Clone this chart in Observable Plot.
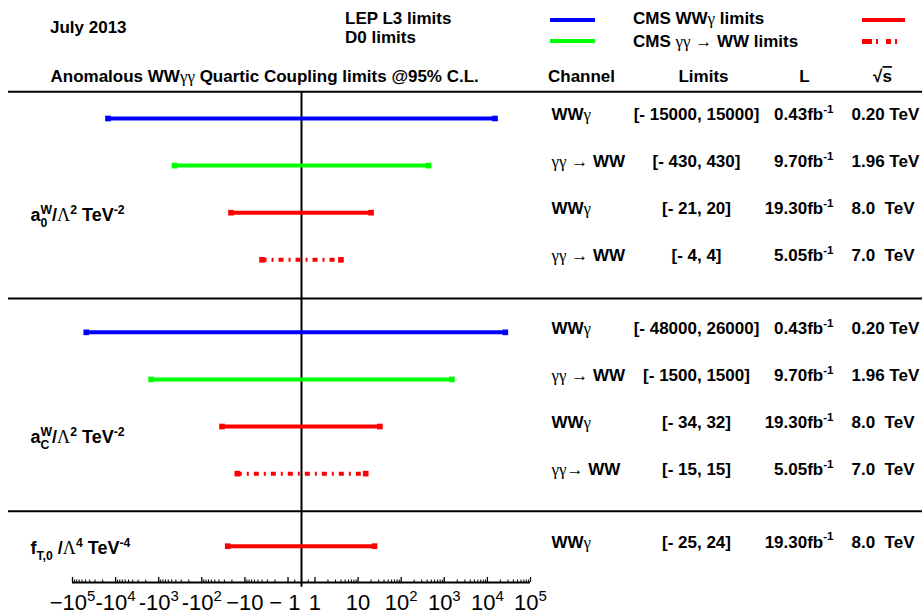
<!DOCTYPE html>
<html>
<head>
<meta charset="utf-8">
<script src="https://cdn.jsdelivr.net/npm/d3@7"></script>
<script src="https://cdn.jsdelivr.net/npm/@observablehq/plot@0.6"></script>
<style>
  body { margin: 0; background: #fff; }
  #wrap { position: relative; width: 922px; height: 616px; overflow: hidden;
          font-family: "Liberation Sans", Arial, sans-serif; font-weight: bold; color: #000; }
  #wrap > svg { position: absolute; left: 0; top: 0; }
  .lg { position: absolute; font-size: 17px; line-height: 17px; white-space: nowrap; }
  .sw { position: absolute; height: 4px; }
  .serif { font-family: "Liberation Serif", serif; font-weight: normal; }
</style>
</head>
<body>
<div id="wrap"></div>
<script>
// ---------------- data ----------------
const rowSection   = [0, 0, 0, 0, 1, 1, 1, 1, 2];
const rowSource    = ["LEP L3", "D0", "CMS WWγ", "CMS γγ→WW", "LEP L3", "D0", "CMS WWγ", "CMS γγ→WW", "CMS WWγ"];
const lowerLimits  = [-15000, -430, -21, -4, -48000, -1500, -34, -15, -25];
const upperLimits  = [15000, 430, 20, 4, 26000, 1500, 32, 15, 24];
const channelLabels = ["WWγ", "γγ → WW", "WWγ", "γγ → WW", "WWγ", "γγ → WW", "WWγ", "γγ→ WW", "WWγ"];
const limitLabels  = ["[- 15000, 15000]", "[- 430, 430]", "[- 21, 20]", "[- 4, 4]",
                      "[- 48000, 26000]", "[- 1500, 1500]", "[- 34, 32]", "[- 15, 15]", "[- 25, 24]"];
const lumiLabels   = ["0.43fb^{-1}", "9.70fb^{-1}", "19.30fb^{-1}", "5.05fb^{-1}",
                      "0.43fb^{-1}", "9.70fb^{-1}", "19.30fb^{-1}", "5.05fb^{-1}", "19.30fb^{-1}"];
const energyLabels = ["0.20 TeV", "1.96 TeV", "8.0  TeV", "7.0  TeV",
                      "0.20 TeV", "1.96 TeV", "8.0  TeV", "7.0  TeV", "8.0  TeV"];
const sectionLabels = ["a@{0}{W}/Λ^{2} TeV^{-2}", "a@{C}{W}/Λ^{2} TeV^{-2}", "f_{T,0} /Λ^{4} TeV^{-4}"];
const sources      = ["LEP L3", "D0", "CMS WWγ", "CMS γγ→WW"];
const sourceColors = ["#0000ff", "#00ff00", "#ff0000", "#ff0000"];
const legendLabels = ["LEP L3 limits", "D0 limits", "CMS WWγ limits", "CMS γγ → WW limits"];
const dateLabel    = "July 2013";
const titleLabel   = "Anomalous WWγγ Quartic Coupling limits @95% C.L.";
const columnLabels = ["Channel", "Limits", "L", "√!{s}"];
const majorTicks   = [-1e5, -1e4, -1e3, -1e2, -10, -1, 1, 10, 1e2, 1e3, 1e4, 1e5];
const majorTickLabels = ["−10^{5}", "-10^{4}", "-10^{3}", "-10^{2}", "−10", "− 1\u00a0", "1", "10", "10^{2}", "10^{3}", "10^{4}", "10^{5}"];
const minorMantissas = [2, 3, 4, 5, 6, 7, 8, 9];
const minorDecades   = [1, 10, 100, 1000, 10000];

// ---------------- layout ----------------
const C = 0.313;                       // half-width of the linear core, in decades
const symT = v => Math.abs(v) >= 1 ? Math.sign(v) * (C + Math.log10(Math.abs(v))) : C * v;
const XMAX = symT(1e5);
const GAP = 0.54;                      // extra space between sections (row units)
const ROW_PX = 47.1, FIRST_PX = 118, AXIS_PX = 582, H = 616;
const Y_TOP = -FIRST_PX / ROW_PX, Y_AXIS = (AXIS_PX - FIRST_PX) / ROW_PX;
const HEADER_Y = -0.89;
const sepY = [-0.57, 3.82, 8.34];
const sectionLabelY = [2.06, 6 + GAP + 0.23, 8 + 2 * GAP + 0.05];
const columnDx = [509, 631, 732, 810];
const MAJOR_LEN = 5 / ROW_PX, MINOR_LEN = 2.5 / ROW_PX;

const rows = lowerLimits.map((lo, i) => ({
  lo, hi: upperLimits[i], source: rowSource[i],
  y: i + rowSection[i] * GAP,
  channel: channelLabels[i], limits: limitLabels[i], lumi: lumiLabels[i], energy: energyLabels[i]
}));
const solidRows = rows.filter(d => d.source !== "CMS γγ→WW");
const dashRows  = rows.filter(d => d.source === "CMS γγ→WW");
const minorTicks = minorDecades.flatMap(d => minorMantissas.flatMap(m => [m * d, -m * d])).concat([0.5, -0.5]);
const tickLabelMap = new Map(majorTicks.map((t, i) => [t, majorTickLabels[i]]));
const DASH = "5,5,2,5";

const plot = Plot.plot({
  width: 922, height: H,
  marginLeft: 72, marginRight: 392, marginTop: 0, marginBottom: H - AXIS_PX,
  style: { fontFamily: "Liberation Sans, Arial, sans-serif", fontSize: "17px", fontWeight: "bold", background: "white", color: "black" },
  x: { type: "linear", transform: symT, domain: [-XMAX, XMAX] },
  y: { type: "linear", domain: [Y_TOP, Y_AXIS], reverse: true, axis: null },
  color: { domain: sources, range: sourceColors },
  marks: [
    Plot.ruleY(sepY, { stroke: "black", strokeWidth: 2, insetLeft: -64, insetRight: -392 }),
    Plot.ruleX([0], { y1: sepY[0], y2: Y_AXIS + 0.1, stroke: "black", strokeWidth: 2 }),
    // axis: line, upward ticks, labels
    Plot.ruleY([Y_AXIS], { stroke: "black", strokeWidth: 2 }),
    Plot.ruleX(majorTicks, { x: d => d, y1: Y_AXIS, y2: Y_AXIS - MAJOR_LEN, stroke: "black", strokeWidth: 1.3 }),
    Plot.ruleX(minorTicks, { x: d => d, y1: Y_AXIS, y2: Y_AXIS - MINOR_LEN, stroke: "black", strokeWidth: 1 }),
    Plot.axisX(majorTicks, { anchor: "bottom", tickSize: 0, tickPadding: 12, tickFormat: d => tickLabelMap.get(d),
                             label: null, fontSize: 22, fontWeight: "normal" }),
    // limit bars
    Plot.ruleY(solidRows, { y: "y", x1: "lo", x2: "hi", stroke: "source", strokeWidth: 4 }),
    Plot.ruleY(dashRows, { y: "y", x1: "lo", x2: "hi", stroke: "source", strokeWidth: 4, strokeDasharray: DASH }),
    Plot.dot(rows, { x: "lo", y: "y", symbol: "square", fill: "source", r: 3.2 }),
    Plot.dot(rows, { x: "hi", y: "y", symbol: "square", fill: "source", r: 3.2 }),
    // table text
    Plot.text(rows, { y: "y", text: "channel", frameAnchor: "left", textAnchor: "start", dx: 479, dy: -4 }),
    Plot.text(rows, { y: "y", text: "limits", frameAnchor: "left", textAnchor: "middle", dx: 624, dy: -4 }),
    Plot.text(rows, { y: "y", text: "lumi", frameAnchor: "left", textAnchor: "end", dx: 761, dy: -4 }),
    Plot.text(rows, { y: "y", text: "energy", frameAnchor: "left", textAnchor: "start", dx: 779, dy: -4 }),
    Plot.text(sectionLabels, { y: (d, i) => sectionLabelY[i], text: d => d, frameAnchor: "left", textAnchor: "start", dx: -42, fontSize: 18 }),
    Plot.text([titleLabel], { y: () => HEADER_Y, text: d => d, frameAnchor: "left", textAnchor: "start", dx: -22 }),
    ...columnLabels.map((lab, i) => Plot.text([lab], { y: () => HEADER_Y, text: d => d, frameAnchor: "left", textAnchor: "middle", dx: columnDx[i] }))
  ]
});

const wrap = document.getElementById("wrap");
wrap.appendChild(plot);

// ---------------- rich text (super/subscripts, symbol glyphs) ----------------
function parseRich(s) {
  const segs = []; let buf = ""; let i = 0;
  const flush = () => { if (buf) { segs.push({ t: buf, k: "n" }); buf = ""; } };
  const group = () => { const j = s.indexOf("}", i); const g = s.slice(i + 1, j); i = j + 1; return g; };
  while (i < s.length) {
    const ch = s[i];
    if ((ch === "^" || ch === "_") && s[i + 1] === "{") { flush(); i++; segs.push({ t: group(), k: ch === "^" ? "sup" : "sub" }); }
    else if (ch === "@" && s[i + 1] === "{") { flush(); i++; const a = group(); const b = group(); segs.push({ t: a, k: "sub" }); segs.push({ t: b, k: "sup", back: true }); }
    else if (ch === "!" && s[i + 1] === "{") { flush(); i++; segs.push({ t: group(), k: "n", over: true }); }
    else if ("γΛ→".includes(ch)) { flush(); segs.push({ t: ch, k: "n", serif: true }); i++; }
    else { buf += ch; i++; }
  }
  flush(); return segs;
}
const NS = "http://www.w3.org/2000/svg";
plot.querySelectorAll("text").forEach(el => {
  const s = el.textContent;
  if (!/[\^_@!γΛ→]/.test(s)) return;
  const fs = parseFloat(getComputedStyle(el).fontSize);
  const segs = parseRich(s);
  el.textContent = "";
  let cur = 0, prevSub = null;
  for (const seg of segs) {
    const ts = document.createElementNS(NS, "tspan");
    ts.textContent = seg.t;
    const target = seg.k === "sup" ? -0.42 * fs : seg.k === "sub" ? 0.3 * fs : 0;
    if (target !== cur) ts.setAttribute("dy", target - cur);
    cur = target;
    if (seg.k !== "n") ts.setAttribute("font-size", 0.68 * fs);
    if (seg.serif) { ts.setAttribute("font-family", "Liberation Serif, serif"); ts.setAttribute("font-weight", "normal"); }
    if (seg.over) ts.setAttribute("style", "text-decoration: overline");
    el.appendChild(ts);
    if (seg.back && prevSub) ts.setAttribute("dx", -prevSub.getComputedTextLength());
    prevSub = seg.k === "sub" ? ts : null;
  }
});
plot.style.whiteSpace = "pre";

// ---------------- legend (above the plot area) ----------------
const colorOf = new Map(sources.map((s, i) => [s, sourceColors[i]]));
const esc = t => t.replace(/[γ→]/g, m => `<span class="serif">${m}</span>`);
function addText(txt, left, cy) {
  const d = document.createElement("div");
  d.className = "lg"; d.innerHTML = esc(txt);
  d.style.left = left + "px"; d.style.top = (cy - 8.5) + "px";
  wrap.appendChild(d);
}
addText(dateLabel, 50, 27);
const legendPos = [[345, 18, 550, 20], [345, 37, 550, 41], [633, 18, 862, 20], [633, 41, 862, 41]];
legendLabels.forEach((lab, i) => {
  const [tx, ty, sx, sy] = legendPos[i];
  addText(lab, tx, ty);
  const sw = document.createElement("div");
  sw.className = "sw";
  sw.style.left = sx + "px"; sw.style.top = (sy - 2) + "px"; sw.style.width = (i < 2 ? 45 : 43) + "px";
  const col = colorOf.get(sources[i]);
  if (sources[i] === "CMS γγ→WW") {
    sw.style.background = `linear-gradient(${col},${col}) 0 0/5px 5px no-repeat, repeating-linear-gradient(90deg, transparent 0 5px, ${col} 5px 10px, transparent 10px 14px, ${col} 14px 16px, transparent 16px 19px)`;
    sw.style.height = "5px"; sw.style.top = (sy - 2.5) + "px";
  } else {
    sw.style.background = col;
  }
  wrap.appendChild(sw);
});
</script>
</body>
</html>
